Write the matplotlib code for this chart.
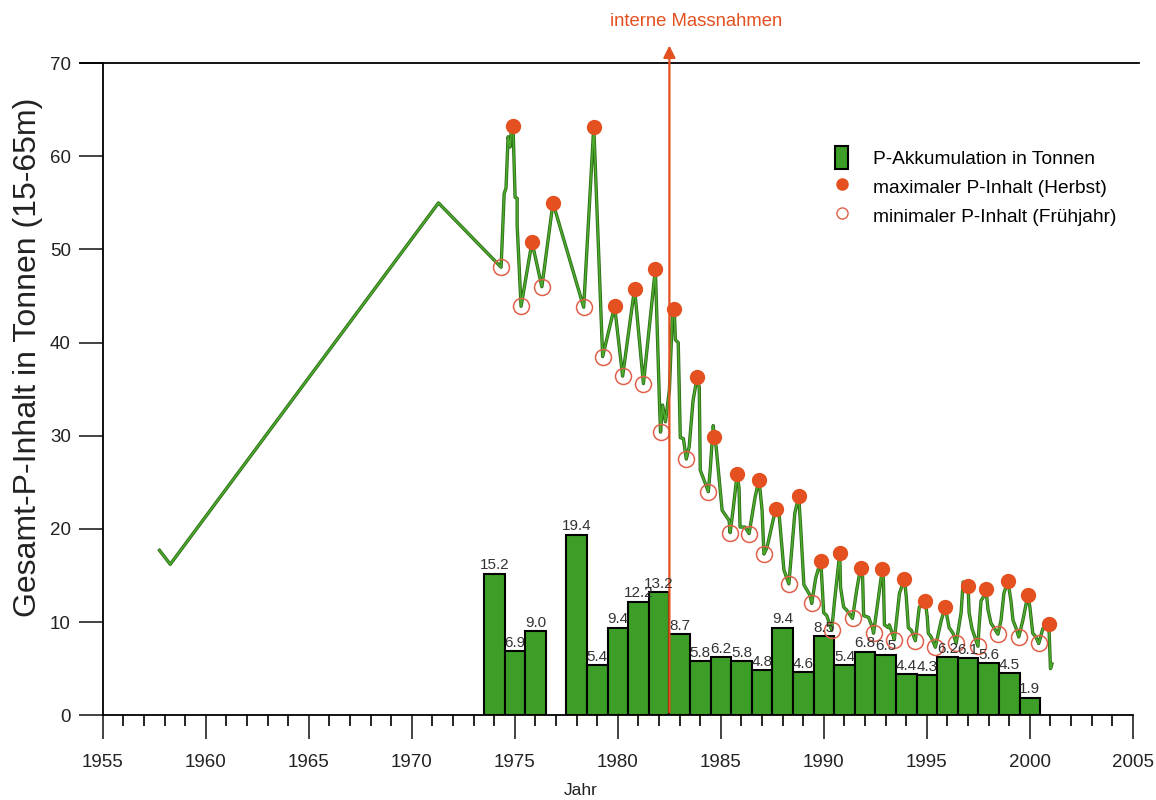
import matplotlib
matplotlib.use("Agg")
import matplotlib.pyplot as plt
import matplotlib.patheffects as pe
from matplotlib.patches import Patch
from matplotlib.lines import Line2D
from matplotlib.ticker import MultipleLocator

plt.rcParams['font.family'] = ['Liberation Sans', 'DejaVu Sans']

# P-Akkumulation (Balken), pro Jahr
bar_years = [1974, 1975, 1976, 1978, 1979, 1980, 1981, 1982, 1983, 1984, 1985, 1986, 1987,
             1988, 1989, 1990, 1991, 1992, 1993, 1994, 1995, 1996, 1997, 1998, 1999, 2000]
bar_vals = [15.2, 6.9, 9.0, 19.4, 5.4, 9.4, 12.2, 13.2, 8.7, 5.8, 6.2, 5.8, 4.8,
            9.4, 4.6, 8.5, 5.4, 6.8, 6.5, 4.4, 4.3, 6.2, 6.1, 5.6, 4.5, 1.9]

# Gesamt-P-Inhalt (Linie)
line_years = [1957.75, 1958.27, 1971.29, 1974.33, 1974.48, 1974.57, 1974.67, 1974.77, 1974.82, 1974.91,
              1975.01, 1975.11, 1975.11, 1975.30, 1975.83, 1976.31, 1976.85, 1978.34, 1978.83, 1979.26,
              1979.84, 1980.23, 1980.81, 1981.24, 1981.82, 1982.02, 1982.07, 1982.17, 1982.31, 1982.50,
              1982.65, 1982.74, 1982.79, 1982.93, 1983.03, 1983.18, 1983.32, 1983.46, 1983.65, 1983.85,
              1983.95, 1984.00, 1984.19, 1984.39, 1984.48, 1984.63, 1984.68, 1984.77, 1985.06, 1985.40,
              1985.45, 1985.59, 1985.79, 1985.88, 1985.93, 1986.17, 1986.37, 1986.66, 1986.85, 1987.00,
              1987.09, 1987.24, 1987.53, 1987.67, 1987.82, 1988.06, 1988.30, 1988.59, 1988.78, 1988.88,
              1989.03, 1989.32, 1989.41, 1989.60, 1989.85, 1989.99, 1990.14, 1990.38, 1990.52, 1990.77,
              1990.81, 1990.96, 1991.10, 1991.39, 1991.59, 1991.78, 1991.88, 1991.93, 1992.17, 1992.36,
              1992.41, 1992.65, 1992.84, 1992.89, 1992.94, 1993.13, 1993.18, 1993.38, 1993.42, 1993.67,
              1993.91, 1994.00, 1994.10, 1994.25, 1994.44, 1994.63, 1994.92, 1995.02, 1995.07, 1995.21,
              1995.41, 1995.70, 1995.89, 1996.04, 1996.08, 1996.27, 1996.42, 1996.66, 1996.76, 1997.00,
              1997.05, 1997.19, 1997.48, 1997.53, 1997.63, 1997.72, 1997.87, 1997.97, 1998.11, 1998.45,
              1998.60, 1998.74, 1998.93, 1999.08, 1999.18, 1999.32, 1999.46, 1999.66, 1999.90, 2000.00,
              2000.14, 2000.29, 2000.43, 2000.63, 2000.92, 2001.00, 2001.07]
line_vals = [17.7, 16.2, 55.0, 48.1, 56.0, 56.6, 62.1, 61.0, 62.5, 63.3,
             55.6, 55.5, 52.6, 43.9, 50.8, 46.0, 55.0, 43.8, 63.2, 38.5,
             43.9, 36.4, 45.8, 35.6, 47.9, 33.5, 30.4, 33.3, 31.5, 34.9,
             43.2, 43.6, 40.3, 40.0, 29.8, 29.7, 27.5, 28.8, 33.8, 36.3,
             35.2, 26.3, 25.2, 24.0, 26.3, 31.1, 29.9, 28.8, 22.0, 20.9,
             19.6, 22.0, 25.9, 24.4, 20.2, 20.2, 19.5, 23.4, 25.3, 22.0,
             17.3, 18.0, 20.9, 22.1, 21.7, 15.6, 14.1, 21.7, 23.5, 19.9,
             14.0, 12.9, 12.0, 14.7, 16.6, 11.0, 10.7, 9.1, 12.3, 17.4,
             13.7, 11.6, 11.3, 10.4, 13.4, 15.8, 14.8, 10.7, 10.5, 9.4,
             8.8, 12.7, 15.7, 14.5, 9.7, 9.4, 9.7, 8.4, 8.1, 13.1,
             14.6, 12.7, 9.4, 9.1, 8.0, 11.6, 12.3, 10.5, 8.8, 8.4,
             7.3, 10.2, 11.6, 9.9, 9.4, 8.8, 7.7, 11.0, 14.3, 13.9,
             11.0, 9.3, 7.4, 9.4, 12.3, 12.6, 13.5, 11.3, 9.9, 8.7,
             10.2, 13.1, 14.4, 12.3, 10.2, 9.4, 8.4, 10.2, 12.9, 11.6,
             8.8, 8.4, 7.7, 9.3, 9.8, 5.0, 5.5]

# maximaler P-Inhalt (Herbst)
max_years = [1974.91, 1975.83, 1976.85, 1978.83, 1979.84, 1980.81, 1981.82, 1982.74, 1983.85,
             1984.68, 1985.79, 1986.85, 1987.67, 1988.78, 1989.85, 1990.77, 1991.78, 1992.84,
             1993.91, 1994.92, 1995.89, 1997.00, 1997.87, 1998.93, 1999.90, 2000.92]
max_vals = [63.3, 50.8, 55.0, 63.2, 43.9, 45.8, 47.9, 43.6, 36.3,
            29.9, 25.9, 25.3, 22.1, 23.5, 16.6, 17.4, 15.8, 15.7,
            14.6, 12.3, 11.6, 13.9, 13.5, 14.4, 12.9, 9.8]

# minimaler P-Inhalt (Fruehjahr)
min_years = [1974.33, 1975.30, 1976.31, 1978.34, 1979.26, 1980.23, 1981.24, 1982.07, 1983.32,
             1984.39, 1985.45, 1986.37, 1987.09, 1988.30, 1989.41, 1990.38, 1991.39, 1992.41,
             1993.42, 1994.44, 1995.41, 1996.42, 1997.48, 1998.45, 1999.46, 2000.43]
min_vals = [48.1, 43.9, 46.0, 43.8, 38.5, 36.4, 35.6, 30.4, 27.5,
            24.0, 19.6, 19.5, 17.3, 14.1, 12.0, 9.1, 10.4, 8.8,
            8.1, 8.0, 7.3, 7.7, 7.4, 8.7, 8.4, 7.7]

massnahmen_jahr = 1982.5

green = '#3c9e26'
red = '#e4501f'

fig = plt.figure(figsize=(11.56, 8), dpi=100)
ax = fig.add_axes([0.089, 0.106, 0.891, 0.815])

bars = ax.bar(bar_years, bar_vals, width=1.0, color=green, edgecolor='black', linewidth=1.5, zorder=2)
ax.bar_label(bars, fmt='%.1f', padding=1, fontsize=11, color='#333333', zorder=6)

ax.plot(line_years, line_vals, color='#4caa2c', lw=1.2, zorder=3,
        path_effects=[pe.Stroke(linewidth=2.4, foreground='#2b6a16'), pe.Normal()])
ax.plot(max_years, max_vals, 'o', color=red, ms=10, mec=red, zorder=5)
ax.plot(min_years, min_vals, 'o', mfc='none', mec='#e0604a', ms=11.5, mew=1.1, zorder=4)

# interne Massnahmen
ax.annotate('', xy=(massnahmen_jahr, 72.2), xytext=(massnahmen_jahr, 0),
            arrowprops=dict(arrowstyle='-|>', color=red, lw=1.6, mutation_scale=18),
            annotation_clip=False, zorder=4)
ax.text(1983.8, 74.5, 'interne Massnahmen', color=red, fontsize=13.3,
        ha='center', va='center', clip_on=False)

ax.set_xlim(1955, 2005)
ax.set_ylim(0, 70)
ax.xaxis.set_major_locator(MultipleLocator(5))
ax.xaxis.set_minor_locator(MultipleLocator(1))
ax.yaxis.set_major_locator(MultipleLocator(10))
ax.tick_params(axis='x', which='major', length=17, width=1.2, pad=11, labelsize=13.5, colors='#222222')
ax.tick_params(axis='x', which='minor', length=8, width=1.2)
ax.tick_params(axis='y', which='major', length=17, width=1.2, pad=6, labelsize=13.5, colors='#222222')
ax.spines['right'].set_visible(False)
for s in ['left', 'bottom', 'top']:
    ax.spines[s].set_linewidth(1.3)
ax.spines['top'].set_bounds(1953.9, 2005.3)

ax.set_ylabel('Gesamt-P-Inhalt in Tonnen (15-65m)', fontsize=23, color='#222222')
ax.yaxis.set_label_coords(-0.058, 0.549)
ax.text(1978.2, -8.1, 'Jahr', fontsize=12.5, ha='center', va='center', color='#222222')

handles = [Patch(facecolor=green, edgecolor='black', linewidth=1.5),
           Line2D([], [], marker='o', ls='none', color=red, ms=8),
           Line2D([], [], marker='o', ls='none', mfc='none', mec='#e0604a', ms=8, mew=1)]
labels = ['P-Akkumulation in Tonnen', 'maximaler P-Inhalt (Herbst)', 'minimaler P-Inhalt (Frühjahr)']
ax.legend(handles, labels, loc='upper left', bbox_to_anchor=(0.694, 0.9), frameon=False,
          fontsize=13.8, handlelength=0.7, handleheight=1.5, handletextpad=1.3, labelspacing=0.3)

fig.savefig('out.png', dpi=100)
